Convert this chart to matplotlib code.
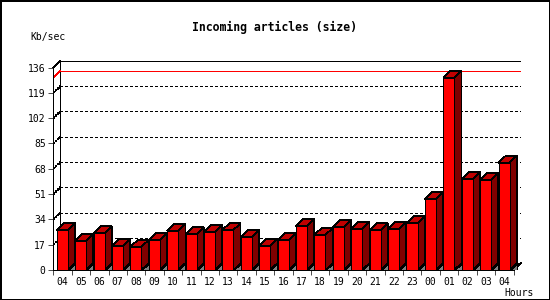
import numpy as np
import matplotlib
matplotlib.use('Agg')
import matplotlib.pyplot as plt
from matplotlib.patches import Polygon, Rectangle

# data (Kb/sec per hour)
hours = ['04', '05', '06', '07', '08', '09', '10', '11', '12', '13', '14', '15', '16',
         '17', '18', '19', '20', '21', '22', '23', '00', '01', '02', '03', '04']
kbsec = [26.9, 19.7, 24.9, 16.2, 15.5, 20.2, 26.3, 24.2, 25.6, 26.9, 22.2, 16.2, 20.2,
         29.6, 23.6, 29.0, 27.6, 26.9, 27.6, 31.6, 47.8, 129.3, 61.3, 60.6, 72.1]
yticks = [0, 17, 34, 51, 68, 85, 102, 119, 136]

W, H = 550, 300
mono = 'DejaVu Sans Mono'

# crisp, pixel-like lines as in the GD original
plt.rcParams['lines.antialiased'] = False
plt.rcParams['patch.antialiased'] = False

fig = plt.figure(figsize=(W / 100, H / 100), dpi=100)
fig.patch.set_facecolor('white')

# 3D depth offsets in data units
ddx, ddy = 0.39, 4.6
n = len(hours)
ymax = yticks[-1]

# axes: front axis at x=0 / y=0, back plane reaching n+ddx / ymax+ddy
x0, x1 = 53.3, 520.7
y0, y1 = 270.0, 60.7
ax = fig.add_axes([x0 / W, 1 - y0 / H, (x1 - x0) / W, (y0 - y1) / H])
ax.set_xlim(0, n + ddx)
ax.set_ylim(0, ymax + ddy)
ax.set_facecolor('none')

lw = 0.5
for s in ['top', 'right']:
    ax.spines[s].set_visible(False)
ax.spines['left'].set_bounds(0, ymax)
ax.spines['bottom'].set_bounds(0, n)
for s in ['left', 'bottom']:
    ax.spines[s].set_linewidth(lw)
    ax.spines[s].set_zorder(10)
    ax.spines[s].set_antialiased(False)

# back plane
ax.add_patch(Rectangle((ddx, ddy), n, ymax, facecolor='white', edgecolor='black',
                       lw=lw, zorder=1))
# left wall edge and right wall
ax.plot([0, ddx], [ymax, ymax + ddy], color='black', lw=lw, zorder=2, clip_on=False)
ax.plot([n, n + ddx], [0, ddy], color='black', lw=lw, zorder=2, clip_on=False)

# dotted gridlines on back plane and left wall
for v in yticks[1:-1]:
    ax.plot([ddx, n + ddx], [v + ddy, v + ddy], color='black', lw=lw,
            linestyle=(0, (3, 3)), zorder=2)
    ax.plot([0, ddx], [v, v + ddy], color='black', lw=lw,
            linestyle=(0, (1.5, 1.5)), zorder=2)

# red line at the maximum
vmax = max(kbsec)
ax.plot([ddx, n + ddx], [vmax + ddy, vmax + ddy], color='red', lw=lw, zorder=2)
ax.plot([0, ddx], [vmax, vmax + ddy], color='red', lw=lw, zorder=2)

# 3D bars
off, bw = 0.185, 0.6
for i, h in enumerate(kbsec):
    xl = i + off
    xr = xl + bw
    ax.add_patch(Polygon([(xr, 0), (xr + ddx, 0), (xr + ddx, ddy)], closed=True,
                         facecolor='#808080', edgecolor='black', lw=lw, zorder=3))
    ax.add_patch(Polygon([(xr, 0), (xr + ddx, ddy), (xr + ddx, h + ddy), (xr, h)],
                         closed=True, facecolor='#800000', edgecolor='black',
                         lw=lw, zorder=4))
    ax.add_patch(Polygon([(xl, h), (xl + ddx, h + ddy), (xr + ddx, h + ddy), (xr, h)],
                         closed=True, facecolor='#c00000', edgecolor='black',
                         lw=lw, zorder=4))
    ax.add_patch(Rectangle((xl, 0), bw, h, facecolor='#ff0000', edgecolor='black',
                           lw=lw, zorder=5))

# ticks
ax.set_yticks(yticks)
ax.set_yticklabels([str(v) for v in yticks], family=mono, fontsize=7)
ax.set_xticks(np.arange(n + 1))
ax.set_xticklabels([])
ax.set_xticks(np.arange(n) + 0.5, minor=True)
ax.set_xticklabels(hours, minor=True, family=mono, fontsize=7)
ax.tick_params(axis='y', length=3.5, width=lw, pad=2)
ax.tick_params(axis='x', which='major', length=3.5, width=lw)
ax.tick_params(axis='x', which='minor', length=0, pad=5)

# texts
fig.text(274 / W, 1 - 27 / H, 'Incoming articles (size)', family=mono,
         fontsize=8.3, fontweight='bold', ha='center', va='center')
fig.text(30 / W, 1 - 37 / H, 'Kb/sec', family=mono, fontsize=7, ha='left', va='center')
fig.text(534 / W, 1 - 293 / H, 'Hours', family=mono, fontsize=7, ha='right', va='center')

# outer frame
fig.add_artist(Rectangle((0.5 / W, 0.5 / H), (W - 1) / W, (H - 1) / H,
                         transform=fig.transFigure, fill=False, edgecolor='black',
                         lw=1.2))

fig.savefig('out.png', dpi=100)
